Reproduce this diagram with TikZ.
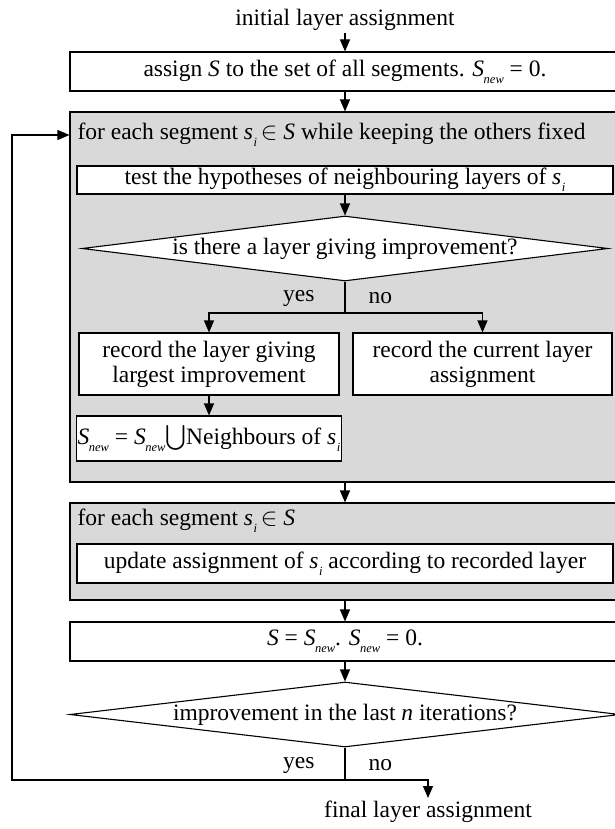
\documentclass[tikz,border=0pt]{standalone}
\usepackage{fontspec}
\usepackage{exscale}
\setmainfont{Liberation Serif}
\usetikzlibrary{shapes.geometric,arrows.meta,calc}

\definecolor{panelgrey}{RGB}{217,217,217}

% small italic subscripts as used in the flow chart
\newcommand\lowsub[1]{\raisebox{-0.3em}{\fontsize{12.5}{12.5}\selectfont\itshape #1}}
\newcommand\Sv{\textit{S}}
\newcommand\Snew{\textit{S}\kern-0.5pt\lowsub{new}}
\newcommand\segi{\textit{s}\kern0.5pt\lowsub{i}}

\tikzset{
  box/.style={draw, fill=white, inner sep=2pt, align=center},
  panel/.style={draw, fill=panelgrey, inner sep=0pt},
  decision/.style={diamond, draw, fill=white, inner sep=0pt, aspect=8},
  txt/.style={inner sep=2pt},
  arr/.style={-{Triangle[length=12pt,width=10pt]}},
}

\begin{document}
\begin{tikzpicture}[x=1pt, y=-1pt, line width=1.1pt,
  font=\fontsize{23.5}{25}\selectfont]
\useasboundingbox (0,0) rectangle (614,829);

% start
\node[txt] (init) at (345,20) {initial layer assignment};
\node[box, minimum width=550pt, minimum height=39pt] (assign) at (345,71.5)
  {assign \Sv\ to the set of all segments. \Snew\ = 0.};

% first loop over the segments
\node[panel, minimum width=550pt, minimum height=370pt] (loop1) at (345,297) {};
\node[txt, anchor=west] (each1) at (75,135)
  {for each segment \segi\,$\in$ \Sv\ while keeping the others fixed};
\node[box, minimum width=536pt, minimum height=28pt] (test) at (345,180)
  {test the hypotheses of neighbouring layers of \segi};
\node[decision, minimum width=526pt, minimum height=65pt] (q1) at (345,248.5)
  {is there a layer giving improvement?};
\coordinate (fork1) at (345,313);
\node[txt, anchor=east] (yes1) at (317,298) {yes};
\node[txt, anchor=west] (no1) at (366,298) {no};
\node[box, minimum width=260pt, minimum height=62pt] (best) at (209,364)
  {record the layer giving\\largest improvement};
\node[box, minimum width=259pt, minimum height=62pt] (keep) at (482.5,364)
  {record the current layer\\assignment};
\node[box, minimum width=260pt, minimum height=45pt, inner sep=1pt] (nbr) at (209,438.5)
  {\Snew\ = \Snew$\bigcup$Neighbours of \segi};

% second loop: apply the recorded layers
\node[panel, minimum width=550pt, minimum height=97pt] (loop2) at (345,551.5) {};
\node[txt, anchor=west] (each2) at (75,521) {for each segment \segi\,$\in$ \Sv};
\node[box, minimum width=536pt, minimum height=39pt] (update) at (345,563.5)
  {update assignment of \segi\ according to recorded layer};

% reset and stopping test
\node[box, minimum width=550pt, minimum height=39pt] (reset) at (345,641.5)
  {\Sv\ = \Snew. \Snew\ = 0.};
\node[decision, minimum width=550pt, minimum height=65pt] (q2) at (345,714.5)
  {improvement in the last \textit{n} iterations?};
\coordinate (fork2) at (345,780);
\node[txt, anchor=east] (yes2) at (317,765) {yes};
\node[txt, anchor=west] (no2) at (366,765) {no};
\node[txt, anchor=north] (final) at (428,798) {final layer assignment};
\coordinate (back) at (12,780);
\coordinate (backtop) at (12,135);

% connectors
\draw[arr] (init) -- (assign);
\draw[arr] (assign) -- (loop1);
\draw[arr] (test) -- (q1);
\draw (q1.south) -- (fork1);
\draw[arr] (fork1) -| (best.north);
\draw[arr] (fork1) -| (keep.north);
\draw[arr] (best) -- (nbr);
\draw[arr] (loop1) -- (loop2);
\draw[arr] (loop2) -- (reset);
\draw[arr] (reset) -- (q2);
\draw (q2.south) -- (fork2);
\draw[arr] (fork2) -| (final.north);
\draw[arr] (fork2) -- (back) -- (backtop) -- (loop1.west |- backtop);
\end{tikzpicture}
\end{document}
